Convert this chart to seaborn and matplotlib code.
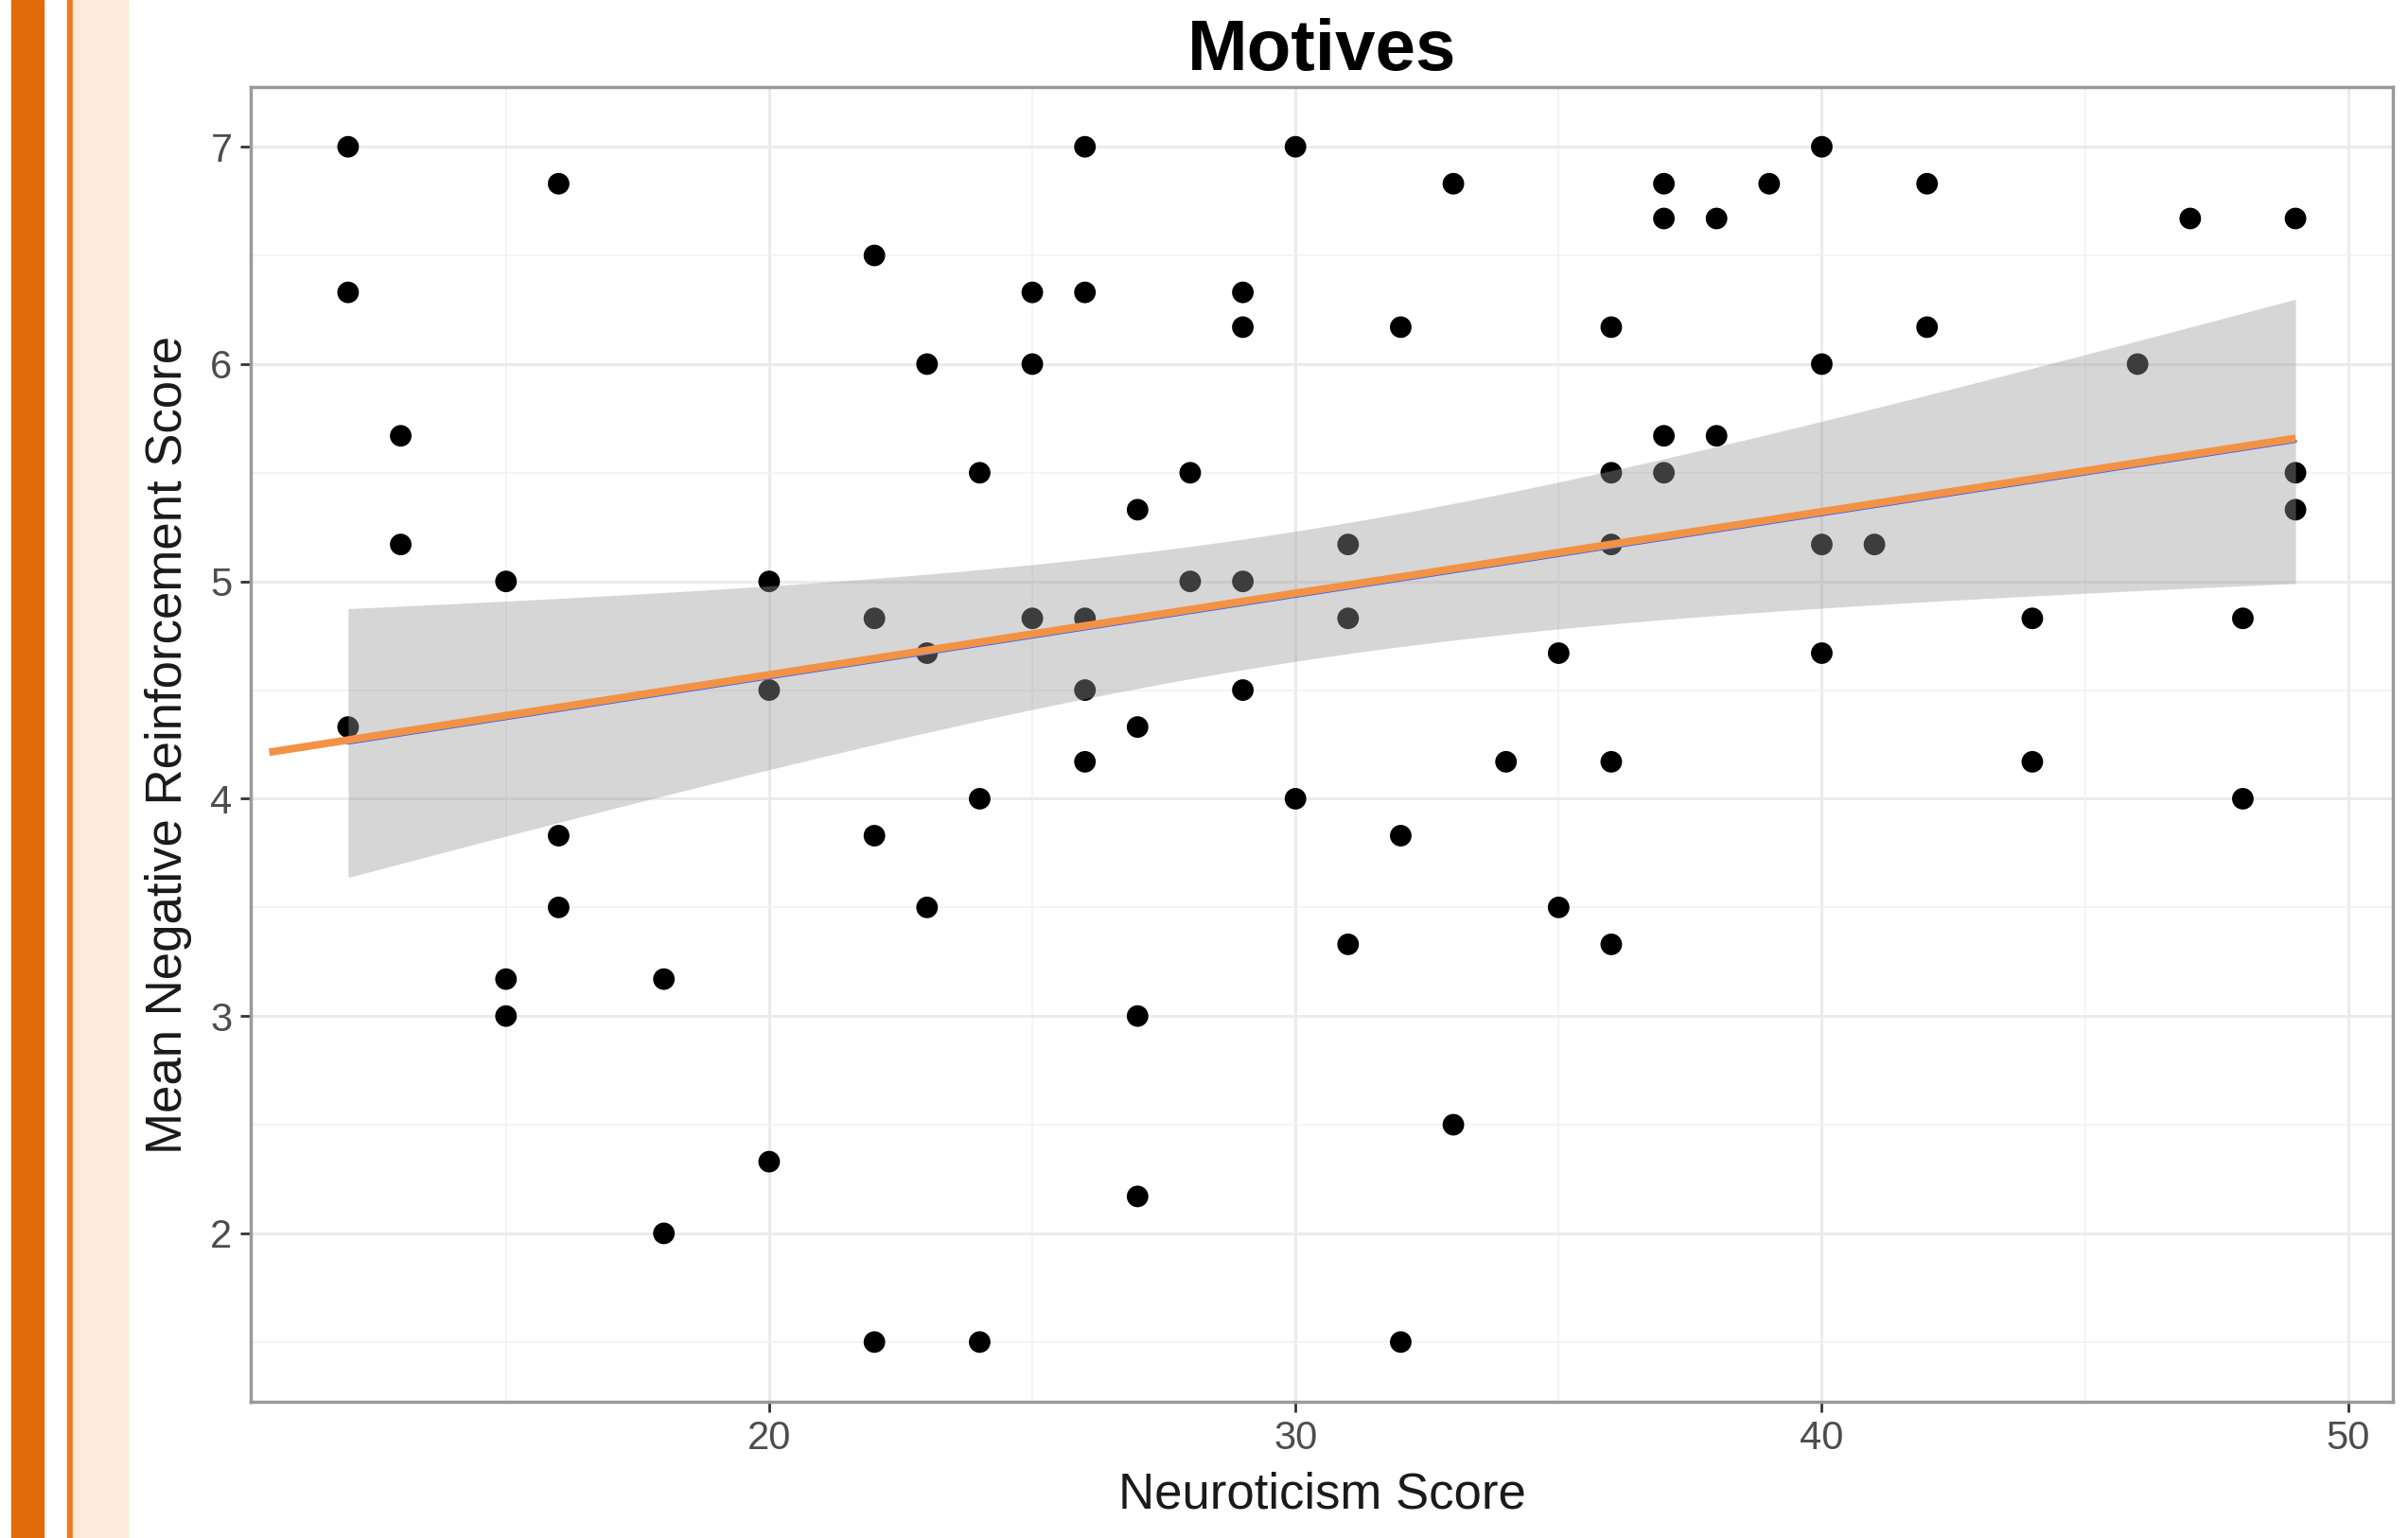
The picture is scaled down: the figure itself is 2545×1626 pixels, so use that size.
import numpy as np
import matplotlib.pyplot as plt
import matplotlib.transforms as mtransforms
from matplotlib.patches import Rectangle
import pandas as pd
import seaborn as sns

# Neuroticism score for each participant, grouped by column of dots
neuroticism = [12, 12, 12,
               13, 13,
               15, 15, 15,
               16, 16, 16,
               18, 18,
               20, 20, 20,
               22, 22, 22, 22,
               23, 23, 23,
               24, 24, 24,
               25, 25, 25,
               26, 26, 26, 26, 26,
               27, 27, 27, 27,
               28, 28,
               29, 29, 29, 29,
               30, 30,
               31, 31, 31,
               32, 32, 32,
               33, 33,
               34,
               35, 35,
               36, 36, 36, 36, 36,
               37, 37, 37, 37,
               38, 38,
               39,
               40, 40, 40, 40,
               41,
               42, 42,
               44, 44,
               46,
               47,
               48, 48,
               49, 49, 49]

# Mean negative reinforcement score, same order
neg_reinf = [7.0, 6.33, 4.33,
             5.67, 5.17,
             5.0, 3.17, 3.0,
             6.83, 3.83, 3.5,
             3.17, 2.0,
             5.0, 4.5, 2.33,
             6.5, 4.83, 3.83, 1.5,
             6.0, 4.67, 3.5,
             5.5, 4.0, 1.5,
             6.33, 6.0, 4.83,
             7.0, 6.33, 4.83, 4.5, 4.17,
             5.33, 4.33, 3.0, 2.17,
             5.5, 5.0,
             6.33, 6.17, 5.0, 4.5,
             7.0, 4.0,
             5.17, 4.83, 3.33,
             6.17, 3.83, 1.5,
             6.83, 2.5,
             4.17,
             4.67, 3.5,
             6.17, 5.5, 5.17, 4.17, 3.33,
             6.83, 6.67, 5.67, 5.5,
             6.67, 5.67,
             6.83,
             7.0, 6.0, 5.17, 4.67,
             5.17,
             6.83, 6.17,
             4.83, 4.17,
             6.0,
             6.67,
             4.83, 4.0,
             6.67, 5.5, 5.33]

x_ticks = [20, 30, 40, 50]
y_ticks = [2, 3, 4, 5, 6, 7]

df = pd.DataFrame({'neuroticism': neuroticism, 'neg_reinf': neg_reinf})

# linear fit with 95% confidence band (like geom_smooth(method = "lm"))
x = df['neuroticism'].values
y = df['neg_reinf'].values
n = len(x)
slope, intercept = np.polyfit(x, y, 1)
resid = y - (intercept + slope * x)
s = np.sqrt(np.sum(resid ** 2) / (n - 2))
t_crit = 1.99  # ~ t(0.975, df = 82)
grid = np.linspace(x.min(), x.max(), 80)
fit = intercept + slope * grid
se = s * np.sqrt(1 / n + (grid - x.mean()) ** 2 / np.sum((x - x.mean()) ** 2))
band = pd.DataFrame({'x': grid, 'fit': fit, 'lo': fit - t_crit * se, 'hi': fit + t_crit * se})

sns.set_style('white')
plt.rcParams['font.family'] = ['Liberation Sans', 'DejaVu Sans']

fig = plt.figure(figsize=(25.45, 16.26), dpi=100)
ax = fig.add_axes([265 / 2545, 1 - 1482 / 1626, 2264 / 2545, 1390 / 1626])

# slide decoration on the left
fig.patches.append(Rectangle((12 / 2545, 0), 34 / 2545, 1, transform=fig.transFigure, color='#E36C0A', zorder=0))
fig.patches.append(Rectangle((71 / 2545, 0), 6 / 2545, 1, transform=fig.transFigure, color='#EC7A1C', zorder=0))
fig.patches.append(Rectangle((77 / 2545, 0), 58 / 2545, 1, transform=fig.transFigure, color='#FDEADA', zorder=0))

sns.scatterplot(data=df, x='neuroticism', y='neg_reinf', color='black', s=270,
                edgecolor='none', ax=ax, zorder=2)
ax.fill_between(band['x'], band['lo'], band['hi'], color='#999999', alpha=0.4,
                linewidth=0, zorder=3)
sns.lineplot(data=band, x='x', y='fit', color='#3366FF', linewidth=2.5, ax=ax, zorder=4)

# orange fitted line, extended a bit to the left
line_x = np.array([10.5, x.max()])
up = mtransforms.offset_copy(ax.transData, fig=fig, x=0, y=2.3, units='points')
ax.plot(line_x, intercept + slope * line_x, color='#F39244', linewidth=5.8,
        solid_capstyle='butt', transform=up, zorder=5)

xr = x.max() - x.min()
yr = y.max() - y.min()
ax.set_xlim(x.min() - 0.05 * xr, x.max() + 0.05 * xr)
ax.set_ylim(y.min() - 0.05 * yr, y.max() + 0.05 * yr)

ax.set_xticks(x_ticks)
ax.set_yticks(y_ticks)
ax.set_xticks([15, 25, 35, 45], minor=True)
ax.set_yticks([1.5, 2.5, 3.5, 4.5, 5.5, 6.5], minor=True)
ax.grid(which='major', color='#EBEBEB', linewidth=2.2, zorder=0)
ax.grid(which='minor', color='#F2F2F2', linewidth=1.2, zorder=0)
ax.set_axisbelow(True)

ax.tick_params(which='major', length=8, width=2, color='#333333',
               labelsize=30, labelcolor='#4D4D4D', pad=6, left=True, bottom=True)
ax.tick_params(which='minor', length=0)
for side in ['left', 'right', 'top', 'bottom']:
    ax.spines[side].set_visible(True)
    ax.spines[side].set_color('#9A9A9A')
    ax.spines[side].set_linewidth(2.5)

ax.set_xlabel('Neuroticism Score', fontsize=38, color='#1A1A1A', labelpad=10)
ax.set_ylabel('Mean Negative Reinforcement Score', fontsize=38, color='#1A1A1A', labelpad=14)

fig.text((265 + 2529) / 2 / 2545, 1 - 74 / 1626, 'Motives', ha='center', va='baseline',
         fontsize=55, fontweight='bold', color='black',
         family=['Liberation Sans Narrow', 'Liberation Sans', 'DejaVu Sans'])

plt.savefig('out.png', dpi=100)
